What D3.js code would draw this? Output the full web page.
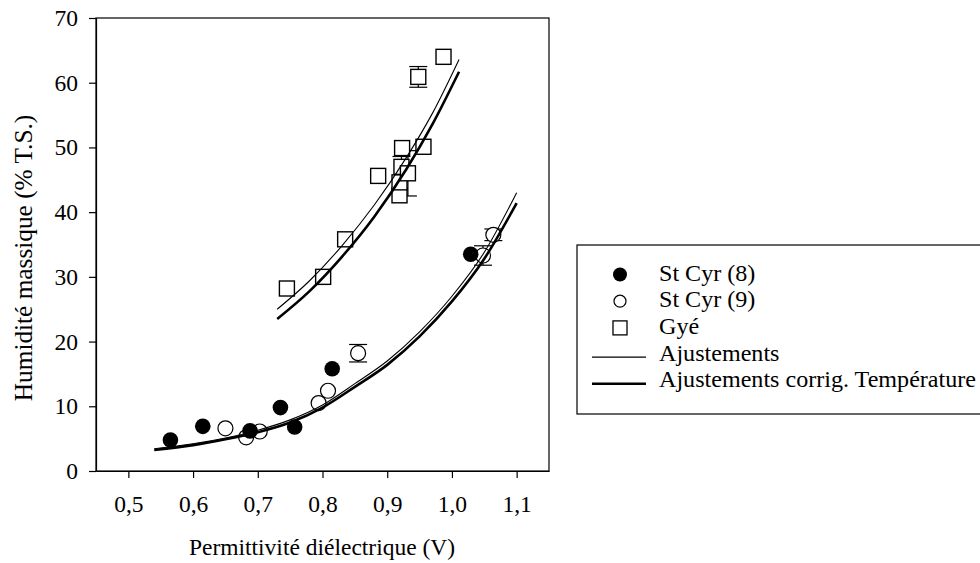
<!DOCTYPE html>
<html>
<head>
<meta charset="utf-8">
<script src="https://cdnjs.cloudflare.com/ajax/libs/d3/7.8.5/d3.min.js"></script>
<style>
  body { margin: 0; background: #fff; }
  svg, svg text { font-family: 'Liberation Serif', 'Times New Roman', Times, serif !important; }
</style>
</head>
<body>
<script>
// St Cyr (8) - filled circles [permittivity, humidity, error]
const stCyr8 = [
  [0.565, 4.8, 0], [0.615, 6.9, 0], [0.688, 6.2, 0], [0.735, 9.8, 0],
  [0.757, 6.8, 0], [0.815, 15.8, 0], [1.029, 33.5, 0]
]
// St Cyr (9) - open circles
const stCyr9 = [
  [0.650, 6.6, 0], [0.682, 5.2, 0], [0.703, 6.1, 0], [0.794, 10.5, 0],
  [0.8085, 12.4, 0], [0.855, 18.2, 1.35], [1.048, 33.3, 1.5], [1.064, 36.5, 0.9]
]
// Gyé - open squares
const gye = [
  [0.745, 28.2, 0], [0.801, 30.0, 0], [0.835, 35.8, 0], [0.886, 45.6, 0],
  [0.919, 42.6, 0], [0.919, 44.6, 0], [0.922, 47.0, 1.6], [0.923, 49.9, 0],
  [0.932, 46.0, 3.5], [0.948, 60.9, 1.6], [0.956, 50.1, 0], [0.987, 64.0, 0]
]

// fitted curves
const fitLowX     = [0.54, 0.60, 0.65, 0.70, 0.75, 0.80, 0.85, 0.90, 0.95, 1.00, 1.05, 1.10]
const fitLow      = [3.45, 4.2, 5.1, 6.3, 7.9, 10.2, 13.5, 17.0, 21.5, 27.0, 33.8, 43.0]
const fitLowCorr  = [3.25, 4.0, 4.9, 6.0, 7.5, 9.8, 13.0, 16.4, 20.8, 26.2, 32.8, 41.4]
const fitHighX    = [0.73, 0.78, 0.83, 0.88, 0.93, 0.97, 1.011]
const fitHigh     = [25.0, 29.4, 34.8, 41.1, 48.5, 55.3, 63.6]
const fitHighCorr = [23.5, 27.8, 33.1, 39.3, 46.7, 53.6, 61.7]

const xTicks = [0.5, 0.6, 0.7, 0.8, 0.9, 1.0, 1.1]
const yTicks = [0, 10, 20, 30, 40, 50, 60, 70]
const legendLabels = ["St Cyr (8)", "St Cyr (9)", "Gyé", "Ajustements", "Ajustements corrig. Température"]

const width = 980, height = 563
const margin = {top: 18, left: 96}
const plotW = 453, plotH = 453
const fontSize = 23.5

const svg = d3.select("body").append("svg")
  .attr("width", width)
  .attr("height", height)

const g = svg.append("g")
  .attr("transform", `translate(${margin.left},${margin.top})`)

const x = d3.scaleLinear().domain([0.45, 1.15]).range([0, plotW])
const y = d3.scaleLinear().domain([0, 70]).range([plotH, 0])

const fr = d3.formatLocale({decimal: ",", thousands: " ", grouping: [3], currency: ["", ""]})
const fmt = fr.format(".1f")

/* axes */
const xaxis = d3.axisBottom(x).tickValues(xTicks).tickFormat(fmt).tickSize(7).tickSizeOuter(0).tickPadding(17.5)
const yaxis = d3.axisLeft(y).tickValues(yTicks).tickFormat(d3.format("d")).tickSize(7).tickSizeOuter(0).tickPadding(11)

g.append("g")
  .attr("transform", `translate(0,${plotH})`)
  .call(xaxis)
g.append("g")
  .call(yaxis)

g.selectAll(".tick text")
  .attr("font-size", fontSize)
  .attr("fill", "#000")
g.selectAll(".tick line").attr("stroke", "#000").attr("stroke-width", 1.2)
g.selectAll(".domain").attr("stroke", "#000").attr("stroke-width", 1.2)

// frame
g.append("rect")
  .attr("width", plotW).attr("height", plotH)
  .attr("fill", "none").attr("stroke", "#000").attr("stroke-width", 1.2)

/* error bars */
const allPts = [...stCyr8, ...stCyr9, ...gye].filter(d => d[2] > 0)
const eb = g.append("g").attr("stroke", "#000").attr("stroke-width", 1.2)
allPts.forEach(d => {
  const cx = x(d[0])
  eb.append("line").attr("x1", cx).attr("x2", cx).attr("y1", y(d[1] - d[2])).attr("y2", y(d[1] + d[2]))
  ;[d[1] - d[2], d[1] + d[2]].forEach(v => {
    eb.append("line").attr("x1", cx - 9).attr("x2", cx + 9).attr("y1", y(v)).attr("y2", y(v))
  })
})

/* markers */
g.selectAll(".sq")
  .data(gye)
  .enter().append("rect")
  .attr("x", d => x(d[0]) - 7.5)
  .attr("y", d => y(d[1]) - 7.5)
  .attr("width", 15).attr("height", 15)
  .attr("fill", "#fff").attr("stroke", "#000").attr("stroke-width", 1.4)

g.selectAll(".c9")
  .data(stCyr9)
  .enter().append("circle")
  .attr("cx", d => x(d[0]))
  .attr("cy", d => y(d[1]))
  .attr("r", 7.5)
  .attr("fill", "#fff").attr("stroke", "#000").attr("stroke-width", 1.2)

g.selectAll(".c8")
  .data(stCyr8)
  .enter().append("circle")
  .attr("cx", d => x(d[0]))
  .attr("cy", d => y(d[1]))
  .attr("r", 7.8)
  .attr("fill", "#000")

/* fitted curves on top */
const line = d3.line().x(d => x(d[0])).y(d => y(d[1])).curve(d3.curveMonotoneX)
const curves = [
  [fitLowX, fitLow, 1.1], [fitLowX, fitLowCorr, 2.6],
  [fitHighX, fitHigh, 1.1], [fitHighX, fitHighCorr, 2.6]
]
curves.forEach(([xs, ys, w]) => {
  g.append("path")
    .datum(xs.map((v, i) => [v, ys[i]]))
    .attr("d", line)
    .attr("fill", "none").attr("stroke", "#000").attr("stroke-width", w)
})

/* axis titles */
svg.append("text")
  .attr("x", 322).attr("y", 555)
  .attr("text-anchor", "middle")
  .attr("font-size", fontSize)
  .text("Permittivité diélectrique (V)")

svg.append("text")
  .attr("transform", "translate(32,258) rotate(-90)")
  .attr("text-anchor", "middle")
  .attr("font-size", 25.3)
  .text("Humidité massique (% T.S.)")

/* legend */
const lg = svg.append("g")
lg.append("rect")
  .attr("x", 577).attr("y", 245).attr("width", 420).attr("height", 169)
  .attr("fill", "#fff").attr("stroke", "#000").attr("stroke-width", 1.2)

legendLabels.forEach((t, i) => {
  const base = 280.5 + i * 26.7
  lg.append("text").attr("x", 659).attr("y", base).attr("font-size", 24.1).text(t)
  const cy = base - 6
  if (i === 0) lg.append("circle").attr("cx", 620).attr("cy", cy).attr("r", 7).attr("fill", "#000")
  if (i === 1) lg.append("circle").attr("cx", 620).attr("cy", cy).attr("r", 6).attr("fill", "#fff").attr("stroke", "#000").attr("stroke-width", 1.2)
  if (i === 2) lg.append("rect").attr("x", 613).attr("y", cy - 7).attr("width", 14).attr("height", 14).attr("fill", "#fff").attr("stroke", "#000").attr("stroke-width", 1.3)
  if (i >= 3) lg.append("line").attr("x1", 592).attr("x2", 646).attr("y1", base - 3.5).attr("y2", base - 3.5)
    .attr("stroke", "#000").attr("stroke-width", i === 3 ? 1.1 : 2.6)
})
</script>
</body>
</html>
